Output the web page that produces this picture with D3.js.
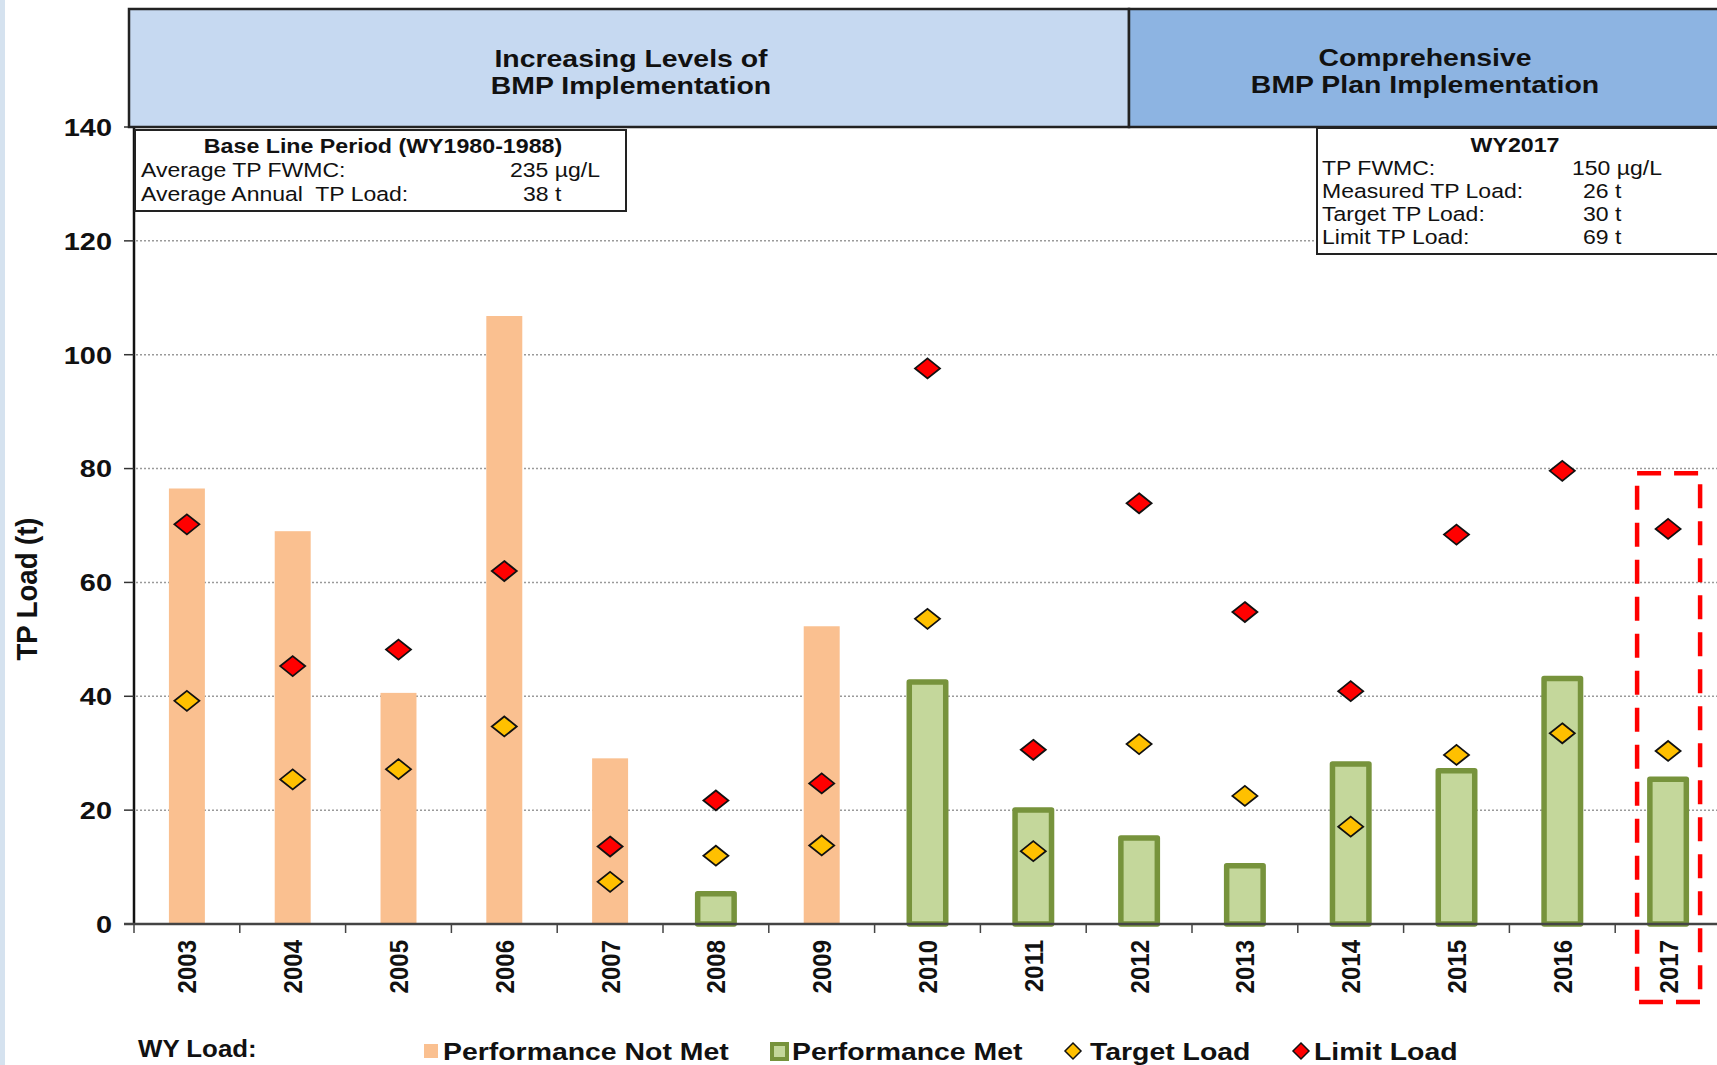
<!DOCTYPE html>
<html><head><meta charset="utf-8">
<script src="https://cdn.jsdelivr.net/npm/d3@7"></script>
<style>
body{margin:0;background:#fff;}
svg{display:block;font-family:"Liberation Sans",Arial,sans-serif;}
text{white-space:pre;}
</style>
</head><body><svg id="c" width="1717" height="1065"></svg>
<script>
// ---- data ----
const years = ["2003","2004","2005","2006","2007","2008","2009","2010","2011","2012","2013","2014","2015","2016","2017"];
const measuredLoad = [76.5,69,40.6,106.8,29.1,5.8,52.3,43,20.5,15.6,10.7,28.6,27.4,43.6,25.9];
const performanceMet = [false,false,false,false,false,true,false,true,true,true,true,true,true,true,true];
const targetLoad = [39.2,25.4,27.2,34.7,7.4,12,13.8,53.6,12.8,31.6,22.5,17.1,29.7,33.5,30.4];
const limitLoad = [70.2,45.3,48.2,62,13.6,21.7,24.7,97.6,30.6,73.9,54.8,40.9,68.4,79.6,69.4];
const yTicks = [0,20,40,60,80,100,120,140];
const headerTexts = [["Increasing Levels of","BMP Implementation"],["Comprehensive","BMP Plan Implementation"]];
const baseLineTitle = "Base Line Period (WY1980-1988)";
const baseLineRows = [["Average TP FWMC:","235 µg/L"],["Average Annual  TP Load:","38 t"]];
const wyTitle = "WY2017";
const wyRows = [["TP FWMC:","150 µg/L"],["Measured TP Load:","26 t"],["Target TP Load:","30 t"],["Limit TP Load:","69 t"]];
const legendLabels = ["Performance Not Met","Performance Met","Target Load","Limit Load"];
const highlightYear = "2017";
const highlightTop = 79.2;

const C = {orange:"#fac090", green:"#c4d79b", greenStroke:"#77933c", target:"#ffc000", limit:"#ff0000",
           hdr1:"#c6d9f1", hdr2:"#8db4e2"};

const svg = d3.select("#c");
const W = 1717;
const x = d3.scaleBand().domain(years).range([134, 1721]).paddingInner(0.66).paddingOuter(0.33);
const y = d3.scaleLinear().domain([0,140]).range([924,127]);
const step = x.step();
const cx = d => x(d) + x.bandwidth()/2;

// left edge strip
svg.append("rect").attr("x",0).attr("y",0).attr("width",5).attr("height",1065).attr("fill","#d5e2ef");

// gridlines
svg.append("g").selectAll("line").data(yTicks.filter(t=>t>0 && t<140)).join("line")
  .attr("x1",136).attr("x2",W).attr("y1",d=>y(d)).attr("y2",d=>y(d))
  .attr("stroke","#9a9a9a").attr("stroke-width",1.5).attr("stroke-dasharray","2,2");

// bars
const rows = years.map((yr,i)=>({yr, v:measuredLoad[i], met:performanceMet[i], t:targetLoad[i], l:limitLoad[i]}));
const sw = 5.5;
svg.append("g").selectAll("rect").data(rows.filter(r=>!r.met)).join("rect")
  .attr("x",d=>x(d.yr)).attr("width",x.bandwidth())
  .attr("y",d=>y(d.v)).attr("height",d=>y(0)-y(d.v)).attr("fill",C.orange);
const gw = x.bandwidth()+6;
svg.append("g").selectAll("rect").data(rows.filter(r=>r.met)).join("rect")
  .attr("x",d=>cx(d.yr)-gw/2+sw/2).attr("width",gw-sw)
  .attr("y",d=>y(d.v)+sw/2).attr("height",d=>y(0)-y(d.v)-sw/2)
  .attr("fill",C.green).attr("stroke",C.greenStroke).attr("stroke-width",sw).attr("stroke-linejoin","round");

// diamonds
const diamond = (hw,hh) => `M0,${-hh}L${hw},0L0,${hh}L${-hw},0Z`;
function diamonds(key,color){
  svg.append("g").selectAll("path").data(rows).join("path")
    .attr("transform",d=>`translate(${cx(d.yr)},${y(d[key])})`)
    .attr("d",diamond(12.5,10)).attr("fill",color).attr("stroke","#111").attr("stroke-width",1.8);
}
diamonds("t",C.target);
diamonds("l",C.limit);

// axes
const yAxis = svg.append("g");
yAxis.append("line").attr("x1",134).attr("x2",134).attr("y1",y(140)).attr("y2",y(0)+1).attr("stroke","#111").attr("stroke-width",2.5);
yAxis.selectAll("line.tk").data(yTicks).join("line").attr("class","tk")
  .attr("x1",124).attr("x2",134).attr("y1",d=>y(d)).attr("y2",d=>y(d)).attr("stroke","#333").attr("stroke-width",1.5);
yAxis.selectAll("text").data(yTicks).join("text")
  .attr("transform",d=>`translate(112,${y(d)}) scale(1.18,1)`).attr("dy","0.36em")
  .attr("text-anchor","end").attr("font-size",24.5).attr("font-weight","bold").attr("fill","#111").text(d=>d);

const xAxis = svg.append("g");
xAxis.append("line").attr("x1",124).attr("x2",W).attr("y1",y(0)).attr("y2",y(0)).attr("stroke","#444").attr("stroke-width",2.5);
xAxis.selectAll("line.tk").data(d3.range(years.length+1)).join("line").attr("class","tk")
  .attr("x1",i=>134+i*step).attr("x2",i=>134+i*step).attr("y1",y(0)).attr("y2",y(0)+9).attr("stroke","#444").attr("stroke-width",1.5);
xAxis.selectAll("text").data(years).join("text")
  .attr("transform",d=>`translate(${cx(d)},940) scale(1.1,1) rotate(-90)`).attr("dy","0.36em")
  .attr("text-anchor","end").attr("font-size",24).attr("font-weight","bold").attr("fill","#111").text(d=>d);

// y label
svg.append("text").attr("transform",`translate(27,589) scale(1.05,1) rotate(-90)`).attr("dy","0.36em")
  .attr("text-anchor","middle").attr("font-size",27.5).attr("font-weight","bold").attr("fill","#111").text("TP Load (t)");

// header boxes
const hdr = svg.append("g");
hdr.append("rect").attr("x",129).attr("y",9).attr("width",1000).attr("height",118).attr("fill",C.hdr1).attr("stroke","#222").attr("stroke-width",2.5);
hdr.append("rect").attr("x",1129).attr("y",9).attr("width",620).attr("height",118).attr("fill",C.hdr2).attr("stroke","#222").attr("stroke-width",2.5);
const hdrCenters = [631,1425];
headerTexts.forEach((lines,j)=>{
  lines.forEach((t,k)=>{
    hdr.append("text").attr("transform",`translate(${hdrCenters[j]},${(j?57:58)+k*27}) scale(1.16,1)`).attr("dy","0.36em")
      .attr("text-anchor","middle").attr("font-size",24.5).attr("font-weight","bold").attr("fill","#111").text(t);
  });
});

// info boxes
function infoBox(bx,by,bw,bh,title,titleX,rowsData,labelX,valX,y0,dyRow){
  const g = svg.append("g");
  g.append("rect").attr("x",bx).attr("y",by).attr("width",bw).attr("height",bh).attr("fill","#fff").attr("stroke","#222").attr("stroke-width",2);
  g.append("text").attr("transform",`translate(${titleX},${y0}) scale(1.19,1)`).attr("dy","0.36em").attr("text-anchor","middle")
    .attr("font-size",19.5).attr("font-weight","bold").attr("fill","#111").text(title);
  rowsData.forEach((r,i)=>{
    g.append("text").attr("transform",`translate(${labelX},${y0+(i+1)*dyRow}) scale(1.18,1)`).attr("dy","0.36em")
      .attr("font-size",19.5).attr("fill","#111").text(r[0]);
    g.append("text").attr("transform",`translate(${valX[i]},${y0+(i+1)*dyRow}) scale(1.18,1)`).attr("dy","0.36em")
      .attr("font-size",19.5).attr("fill","#111").text(r[1]);
  });
}
infoBox(135,130,491,81,baseLineTitle,383,baseLineRows,141,[510,523],146,24);
infoBox(1317,128,420,126,wyTitle,1515,wyRows,1322,[1572,1583,1583,1583],145,23);

// highlight dashed rect
svg.append("rect").attr("x",cx(highlightYear)-31).attr("y",y(highlightTop)).attr("width",63).attr("height",1002-y(highlightTop))
  .attr("fill","none").attr("stroke",C.limit).attr("stroke-width",4.5).attr("stroke-dasharray","24,13");

// legend
const lg = svg.append("g");
const ly = 1051;
lg.append("text").attr("transform",`translate(138,${ly-2}) scale(1.1,1)`).attr("dy","0.36em").attr("font-size",23.5).attr("font-weight","bold").attr("fill","#111").text("WY Load:");
lg.append("rect").attr("x",424).attr("y",ly-7).attr("width",14).attr("height",14).attr("fill",C.orange);
lg.append("rect").attr("x",772).attr("y",ly-7).attr("width",15).attr("height",15).attr("fill",C.green).attr("stroke",C.greenStroke).attr("stroke-width",4);
lg.append("path").attr("transform",`translate(1073,${ly})`).attr("d",diamond(8,8)).attr("fill",C.target).attr("stroke","#111").attr("stroke-width",1.5);
lg.append("path").attr("transform",`translate(1301,${ly})`).attr("d",diamond(8,8)).attr("fill",C.limit).attr("stroke","#111").attr("stroke-width",1.5);
const legendX = [443,792,1090,1314];
legendLabels.forEach((t,i)=>{
  lg.append("text").attr("transform",`translate(${legendX[i]},${ly}) scale(1.16,1)`).attr("dy","0.36em")
    .attr("font-size",24.5).attr("font-weight","bold").attr("fill","#111").text(t);
});
</script>
</body></html>
